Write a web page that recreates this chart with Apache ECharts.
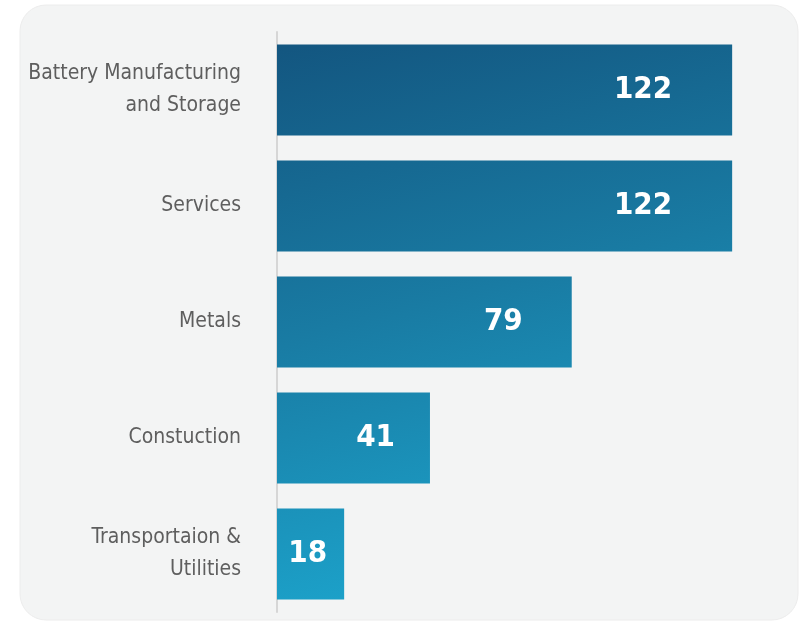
<!DOCTYPE html>
<html>
<head>
<meta charset="utf-8">
<script src="https://cdn.jsdelivr.net/npm/echarts@6/dist/echarts.min.js"></script>
<style>
  html, body { margin: 0; padding: 0; background: #ffffff; }
  #chart { width: 807px; height: 622px; }
</style>
</head>
<body>
<div id="chart"></div>
<script>
// ---- data ----
var categories = [
  'Battery Manufacturing\nand Storage',
  'Services',
  'Metals',
  'Constuction',
  'Transportaion &\nUtilities'
];
var values = [122, 122, 79, 41, 18];

// ---- styling (label distance from bar end, px) ----
var labelDistances = [60, 60, 49, 35, 17];

var FONT = '"Liberation Sans Narrow", "DejaVu Sans Condensed", "Roboto", sans-serif';

var chart = echarts.init(document.getElementById('chart'), null, { renderer: 'canvas' });

var barGradient = new echarts.graphic.LinearGradient(277, 45, 420, 600, [
  { offset: 0, color: '#135680' },
  { offset: 0.5, color: '#197ba3' },
  { offset: 1, color: '#1ca3cb' }
], true);

var seriesData = values.map(function (v, i) {
  return {
    value: v,
    label: { distance: labelDistances[i] }
  };
});

chart.setOption({
  backgroundColor: 'transparent',
  animation: false,
  graphic: [{
    type: 'rect',
    z: -10,
    silent: true,
    shape: { x: 20, y: 5, width: 778, height: 615, r: 26 },
    style: { fill: '#f3f4f4', stroke: '#ececec', lineWidth: 1 }
  }],
  grid: { left: 277, top: 32, height: 580, right: 45, containLabel: false, outerBoundsMode: 'none' },
  xAxis: {
    type: 'value',
    min: 0,
    max: 130,
    show: false
  },
  yAxis: {
    type: 'category',
    inverse: true,
    data: categories,
    axisLine: { show: true, lineStyle: { color: '#d6d6d6', width: 2 } },
    axisTick: { show: false },
    axisLabel: {
      margin: 36,
      color: '#5e5e5e',
      fontFamily: FONT,
      fontSize: 21,
      lineHeight: 32,
      align: 'right'
    }
  },
  series: [{
    type: 'bar',
    data: seriesData,
    barWidth: 91,
    itemStyle: { color: barGradient },
    label: {
      show: true,
      position: 'insideRight',
      color: '#ffffff',
      fontFamily: FONT,
      fontWeight: 'bold',
      fontSize: 31
    }
  }]
});
</script>
</body>
</html>
